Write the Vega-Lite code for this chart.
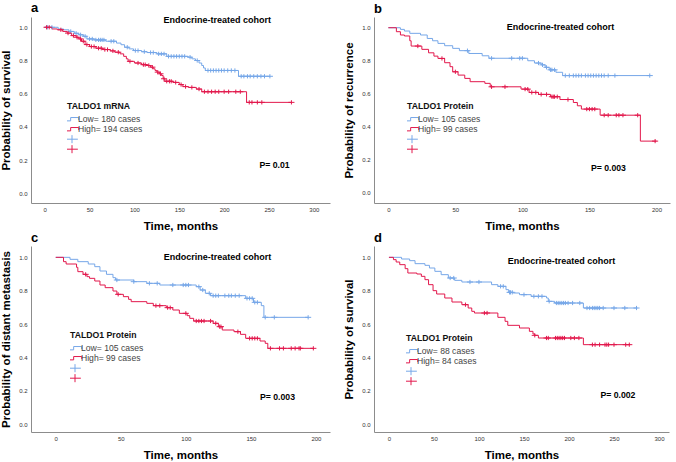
{
"$schema": "https://vega.github.io/schema/vega-lite/v6.json",
"padding": {"left": 0, "top": 1, "right": 2, "bottom": 1},
"config": {
  "font": "Liberation Sans",
  "view": {"stroke": null},
  "title": {"anchor": "start", "frame": "group", "fontSize": 13, "fontWeight": "bold", "offset": 1, "color": "#000"},
  "axis": {"grid": false, "ticks": false, "domainColor": "#8c8c8c", "labelFontSize": 6, "labelColor": "#333", "labelPadding": 3, "labelOverlap": false, "titleFontSize": 11.5, "titleFontWeight": "bold", "titleColor": "#000"},
  "axisY": {"titlePadding": 7, "labelPadding": 4},
  "axisX": {"titlePadding": 8},
  "legend": {"orient": "none", "padding": 0, "titleFontSize": 8.7, "titleFontWeight": "bold", "titleColor": "#111", "labelFontSize": 8.6, "labelColor": "#444", "symbolSize": 81, "symbolStrokeWidth": 1, "rowPadding": 0, "labelOffset": 1, "titlePadding": 4, "clipHeight": 9}
},
"datasets": {
  "aL": [
    {"g":"Low","t":0,"s":1},{"g":"Low","t":15,"s":0.99},{"g":"Low","t":21,"s":0.985},{"g":"Low","t":27,"s":0.975},{"g":"Low","t":33,"s":0.964},{"g":"Low","t":38,"s":0.955},{"g":"Low","t":43,"s":0.946},{"g":"Low","t":47,"s":0.93},{"g":"Low","t":55,"s":0.924},{"g":"Low","t":68,"s":0.916},{"g":"Low","t":80,"s":0.905},{"g":"Low","t":85,"s":0.895},{"g":"Low","t":89,"s":0.88},{"g":"Low","t":94,"s":0.87},{"g":"Low","t":99,"s":0.86},{"g":"Low","t":108,"s":0.853},{"g":"Low","t":114,"s":0.848},{"g":"Low","t":125,"s":0.84},{"g":"Low","t":136,"s":0.825},{"g":"Low","t":160,"s":0.82},{"g":"Low","t":164,"s":0.81},{"g":"Low","t":168,"s":0.8},{"g":"Low","t":172,"s":0.785},{"g":"Low","t":175,"s":0.77},{"g":"Low","t":177,"s":0.755},{"g":"Low","t":179,"s":0.74},{"g":"Low","t":216,"s":0.705},{"g":"Low","t":251,"s":0.705},
    {"g":"High","t":0,"s":1},{"g":"High","t":8,"s":0.99},{"g":"High","t":14,"s":0.985},{"g":"High","t":20,"s":0.975},{"g":"High","t":25,"s":0.965},{"g":"High","t":30,"s":0.95},{"g":"High","t":35,"s":0.94},{"g":"High","t":38,"s":0.93},{"g":"High","t":41,"s":0.916},{"g":"High","t":45,"s":0.896},{"g":"High","t":50,"s":0.884},{"g":"High","t":57,"s":0.874},{"g":"High","t":65,"s":0.866},{"g":"High","t":73,"s":0.858},{"g":"High","t":78,"s":0.85},{"g":"High","t":84,"s":0.84},{"g":"High","t":88,"s":0.825},{"g":"High","t":91,"s":0.81},{"g":"High","t":93,"s":0.795},{"g":"High","t":100,"s":0.785},{"g":"High","t":108,"s":0.775},{"g":"High","t":114,"s":0.77},{"g":"High","t":118,"s":0.76},{"g":"High","t":121,"s":0.75},{"g":"High","t":123,"s":0.74},{"g":"High","t":125,"s":0.73},{"g":"High","t":128,"s":0.72},{"g":"High","t":130,"s":0.71},{"g":"High","t":132,"s":0.69},{"g":"High","t":134,"s":0.675},{"g":"High","t":143,"s":0.668},{"g":"High","t":150,"s":0.655},{"g":"High","t":154,"s":0.643},{"g":"High","t":160,"s":0.638},{"g":"High","t":169,"s":0.628},{"g":"High","t":175,"s":0.612},{"g":"High","t":225,"s":0.548},{"g":"High","t":275,"s":0.548}
  ],
  "aC": [
    {"g":"LowC","t":3,"s":1},{"g":"LowC","t":8,"s":1},{"g":"LowC","t":29,"s":0.975},{"g":"LowC","t":35,"s":0.964},{"g":"LowC","t":40,"s":0.955},{"g":"LowC","t":45,"s":0.946},{"g":"LowC","t":50,"s":0.93},{"g":"LowC","t":53,"s":0.93},{"g":"LowC","t":57,"s":0.924},{"g":"LowC","t":60,"s":0.924},{"g":"LowC","t":62,"s":0.924},{"g":"LowC","t":64,"s":0.924},{"g":"LowC","t":66,"s":0.924},{"g":"LowC","t":74,"s":0.916},{"g":"LowC","t":77,"s":0.916},{"g":"LowC","t":92,"s":0.88},{"g":"LowC","t":101,"s":0.86},{"g":"LowC","t":104,"s":0.86},{"g":"LowC","t":111,"s":0.853},{"g":"LowC","t":118,"s":0.848},{"g":"LowC","t":121,"s":0.848},{"g":"LowC","t":127,"s":0.84},{"g":"LowC","t":130,"s":0.84},{"g":"LowC","t":133,"s":0.84},{"g":"LowC","t":138,"s":0.825},{"g":"LowC","t":141,"s":0.825},{"g":"LowC","t":144,"s":0.825},{"g":"LowC","t":147,"s":0.825},{"g":"LowC","t":150,"s":0.825},{"g":"LowC","t":153,"s":0.825},{"g":"LowC","t":156,"s":0.825},{"g":"LowC","t":162,"s":0.82},{"g":"LowC","t":170,"s":0.8},{"g":"LowC","t":182,"s":0.74},{"g":"LowC","t":185,"s":0.74},{"g":"LowC","t":188,"s":0.74},{"g":"LowC","t":191,"s":0.74},{"g":"LowC","t":194,"s":0.74},{"g":"LowC","t":197,"s":0.74},{"g":"LowC","t":200,"s":0.74},{"g":"LowC","t":204,"s":0.74},{"g":"LowC","t":208,"s":0.74},{"g":"LowC","t":212,"s":0.74},{"g":"LowC","t":219,"s":0.705},{"g":"LowC","t":222,"s":0.705},{"g":"LowC","t":226,"s":0.705},{"g":"LowC","t":229,"s":0.705},{"g":"LowC","t":233,"s":0.705},{"g":"LowC","t":237,"s":0.705},{"g":"LowC","t":241,"s":0.705},{"g":"LowC","t":245,"s":0.705},{"g":"LowC","t":251,"s":0.705},
    {"g":"HighC","t":2,"s":1},{"g":"HighC","t":5,"s":1},{"g":"HighC","t":18,"s":0.985},{"g":"HighC","t":26,"s":0.965},{"g":"HighC","t":32,"s":0.95},{"g":"HighC","t":36,"s":0.94},{"g":"HighC","t":40,"s":0.93},{"g":"HighC","t":43,"s":0.916},{"g":"HighC","t":47,"s":0.896},{"g":"HighC","t":52,"s":0.884},{"g":"HighC","t":55,"s":0.884},{"g":"HighC","t":60,"s":0.874},{"g":"HighC","t":63,"s":0.874},{"g":"HighC","t":67,"s":0.866},{"g":"HighC","t":70,"s":0.866},{"g":"HighC","t":76,"s":0.858},{"g":"HighC","t":82,"s":0.85},{"g":"HighC","t":95,"s":0.795},{"g":"HighC","t":104,"s":0.785},{"g":"HighC","t":110,"s":0.775},{"g":"HighC","t":112,"s":0.775},{"g":"HighC","t":116,"s":0.77},{"g":"HighC","t":120,"s":0.76},{"g":"HighC","t":126,"s":0.73},{"g":"HighC","t":129,"s":0.72},{"g":"HighC","t":133,"s":0.69},{"g":"HighC","t":136,"s":0.675},{"g":"HighC","t":139,"s":0.675},{"g":"HighC","t":141,"s":0.675},{"g":"HighC","t":146,"s":0.668},{"g":"HighC","t":152,"s":0.655},{"g":"HighC","t":157,"s":0.643},{"g":"HighC","t":164,"s":0.638},{"g":"HighC","t":172,"s":0.628},{"g":"HighC","t":178,"s":0.612},{"g":"HighC","t":182,"s":0.612},{"g":"HighC","t":186,"s":0.612},{"g":"HighC","t":190,"s":0.612},{"g":"HighC","t":194,"s":0.612},{"g":"HighC","t":200,"s":0.612},{"g":"HighC","t":205,"s":0.612},{"g":"HighC","t":213,"s":0.612},{"g":"HighC","t":218,"s":0.612},{"g":"HighC","t":228,"s":0.548},{"g":"HighC","t":231,"s":0.548},{"g":"HighC","t":237,"s":0.548},{"g":"HighC","t":242,"s":0.548},{"g":"HighC","t":275,"s":0.548}
  ],
  "bL": [
    {"g":"Low","t":0,"s":1},{"g":"Low","t":9,"s":0.99},{"g":"Low","t":12,"s":0.98},{"g":"Low","t":16,"s":0.966},{"g":"Low","t":24,"s":0.956},{"g":"Low","t":29,"s":0.935},{"g":"Low","t":33,"s":0.921},{"g":"Low","t":37,"s":0.905},{"g":"Low","t":42,"s":0.891},{"g":"Low","t":48,"s":0.875},{"g":"Low","t":53,"s":0.861},{"g":"Low","t":60,"s":0.844},{"g":"Low","t":70,"s":0.83},{"g":"Low","t":75,"s":0.815},{"g":"Low","t":104,"s":0.8},{"g":"Low","t":109,"s":0.786},{"g":"Low","t":114,"s":0.775},{"g":"Low","t":117,"s":0.76},{"g":"Low","t":120,"s":0.745},{"g":"Low","t":125,"s":0.73},{"g":"Low","t":130,"s":0.71},{"g":"Low","t":195,"s":0.71},
    {"g":"High","t":0,"s":1},{"g":"High","t":6,"s":0.976},{"g":"High","t":9,"s":0.956},{"g":"High","t":12,"s":0.95},{"g":"High","t":16,"s":0.921},{"g":"High","t":17,"s":0.889},{"g":"High","t":25,"s":0.869},{"g":"High","t":30,"s":0.848},{"g":"High","t":34,"s":0.828},{"g":"High","t":37,"s":0.814},{"g":"High","t":42,"s":0.788},{"g":"High","t":46,"s":0.764},{"g":"High","t":48,"s":0.733},{"g":"High","t":52,"s":0.713},{"g":"High","t":57,"s":0.693},{"g":"High","t":61,"s":0.673},{"g":"High","t":72,"s":0.663},{"g":"High","t":76,"s":0.642},{"g":"High","t":99,"s":0.628},{"g":"High","t":105,"s":0.608},{"g":"High","t":112,"s":0.596},{"g":"High","t":121,"s":0.582},{"g":"High","t":128,"s":0.565},{"g":"High","t":138,"s":0.547},{"g":"High","t":141,"s":0.527},{"g":"High","t":144,"s":0.507},{"g":"High","t":158,"s":0.47},{"g":"High","t":188,"s":0.313},{"g":"High","t":200,"s":0.313}
  ],
  "bC": [
    {"g":"LowC","t":59,"s":0.861},{"g":"LowC","t":77,"s":0.815},{"g":"LowC","t":92,"s":0.815},{"g":"LowC","t":98,"s":0.815},{"g":"LowC","t":100,"s":0.815},{"g":"LowC","t":112,"s":0.786},{"g":"LowC","t":115,"s":0.775},{"g":"LowC","t":118,"s":0.76},{"g":"LowC","t":121,"s":0.745},{"g":"LowC","t":122,"s":0.745},{"g":"LowC","t":124,"s":0.745},{"g":"LowC","t":132,"s":0.71},{"g":"LowC","t":135,"s":0.71},{"g":"LowC","t":138,"s":0.71},{"g":"LowC","t":140,"s":0.71},{"g":"LowC","t":142,"s":0.71},{"g":"LowC","t":144,"s":0.71},{"g":"LowC","t":147,"s":0.71},{"g":"LowC","t":149,"s":0.71},{"g":"LowC","t":151,"s":0.71},{"g":"LowC","t":153,"s":0.71},{"g":"LowC","t":155,"s":0.71},{"g":"LowC","t":157,"s":0.71},{"g":"LowC","t":159,"s":0.71},{"g":"LowC","t":161,"s":0.71},{"g":"LowC","t":164,"s":0.71},{"g":"LowC","t":169,"s":0.71},{"g":"LowC","t":195,"s":0.71},
    {"g":"HighC","t":22,"s":0.889},{"g":"HighC","t":40,"s":0.814},{"g":"HighC","t":50,"s":0.733},{"g":"HighC","t":77,"s":0.642},{"g":"HighC","t":87,"s":0.642},{"g":"HighC","t":102,"s":0.628},{"g":"HighC","t":104,"s":0.628},{"g":"HighC","t":107,"s":0.608},{"g":"HighC","t":110,"s":0.608},{"g":"HighC","t":114,"s":0.596},{"g":"HighC","t":118,"s":0.596},{"g":"HighC","t":122,"s":0.582},{"g":"HighC","t":123,"s":0.582},{"g":"HighC","t":124,"s":0.582},{"g":"HighC","t":126,"s":0.582},{"g":"HighC","t":134,"s":0.565},{"g":"HighC","t":148,"s":0.507},{"g":"HighC","t":150,"s":0.507},{"g":"HighC","t":152,"s":0.507},{"g":"HighC","t":154,"s":0.507},{"g":"HighC","t":161,"s":0.47},{"g":"HighC","t":164,"s":0.47},{"g":"HighC","t":170,"s":0.47},{"g":"HighC","t":172,"s":0.47},{"g":"HighC","t":175,"s":0.47},{"g":"HighC","t":186,"s":0.47},{"g":"HighC","t":199,"s":0.313}
  ],
  "cL": [
    {"g":"Low","t":0,"s":1},{"g":"Low","t":11,"s":0.988},{"g":"Low","t":17,"s":0.974},{"g":"Low","t":25,"s":0.96},{"g":"Low","t":30,"s":0.944},{"g":"Low","t":34,"s":0.918},{"g":"Low","t":39,"s":0.898},{"g":"Low","t":44,"s":0.878},{"g":"Low","t":46,"s":0.864},{"g":"Low","t":60,"s":0.854},{"g":"Low","t":70,"s":0.844},{"g":"Low","t":80,"s":0.834},{"g":"Low","t":108,"s":0.824},{"g":"Low","t":111,"s":0.804},{"g":"Low","t":115,"s":0.784},{"g":"Low","t":119,"s":0.77},{"g":"Low","t":146,"s":0.754},{"g":"Low","t":152,"s":0.73},{"g":"Low","t":158,"s":0.71},{"g":"Low","t":160,"s":0.64},{"g":"Low","t":194,"s":0.64},
    {"g":"High","t":0,"s":1},{"g":"High","t":6,"s":0.974},{"g":"High","t":8,"s":0.96},{"g":"High","t":16,"s":0.94},{"g":"High","t":17,"s":0.914},{"g":"High","t":21,"s":0.898},{"g":"High","t":24,"s":0.884},{"g":"High","t":26,"s":0.874},{"g":"High","t":30,"s":0.858},{"g":"High","t":34,"s":0.834},{"g":"High","t":38,"s":0.818},{"g":"High","t":44,"s":0.798},{"g":"High","t":47,"s":0.778},{"g":"High","t":52,"s":0.764},{"g":"High","t":56,"s":0.748},{"g":"High","t":58,"s":0.734},{"g":"High","t":70,"s":0.724},{"g":"High","t":75,"s":0.71},{"g":"High","t":85,"s":0.698},{"g":"High","t":90,"s":0.684},{"g":"High","t":95,"s":0.664},{"g":"High","t":101,"s":0.65},{"g":"High","t":103,"s":0.634},{"g":"High","t":106,"s":0.618},{"g":"High","t":121,"s":0.604},{"g":"High","t":125,"s":0.584},{"g":"High","t":128,"s":0.564},{"g":"High","t":137,"s":0.554},{"g":"High","t":142,"s":0.538},{"g":"High","t":146,"s":0.514},{"g":"High","t":157,"s":0.498},{"g":"High","t":161,"s":0.484},{"g":"High","t":163,"s":0.454},{"g":"High","t":198,"s":0.454}
  ],
  "cC": [
    {"g":"LowC","t":47,"s":0.864},{"g":"LowC","t":60,"s":0.854},{"g":"LowC","t":72,"s":0.844},{"g":"LowC","t":78,"s":0.844},{"g":"LowC","t":90,"s":0.834},{"g":"LowC","t":98,"s":0.834},{"g":"LowC","t":100,"s":0.834},{"g":"LowC","t":102,"s":0.834},{"g":"LowC","t":110,"s":0.824},{"g":"LowC","t":113,"s":0.804},{"g":"LowC","t":118,"s":0.784},{"g":"LowC","t":121,"s":0.77},{"g":"LowC","t":123,"s":0.77},{"g":"LowC","t":125,"s":0.77},{"g":"LowC","t":130,"s":0.77},{"g":"LowC","t":133,"s":0.77},{"g":"LowC","t":135,"s":0.77},{"g":"LowC","t":138,"s":0.77},{"g":"LowC","t":141,"s":0.77},{"g":"LowC","t":147,"s":0.754},{"g":"LowC","t":149,"s":0.754},{"g":"LowC","t":151,"s":0.754},{"g":"LowC","t":153,"s":0.73},{"g":"LowC","t":155,"s":0.73},{"g":"LowC","t":161,"s":0.64},{"g":"LowC","t":168,"s":0.64},{"g":"LowC","t":194,"s":0.64},
    {"g":"HighC","t":23,"s":0.898},{"g":"HighC","t":48,"s":0.778},{"g":"HighC","t":77,"s":0.71},{"g":"HighC","t":80,"s":0.71},{"g":"HighC","t":86,"s":0.698},{"g":"HighC","t":88,"s":0.698},{"g":"HighC","t":100,"s":0.664},{"g":"HighC","t":108,"s":0.618},{"g":"HighC","t":110,"s":0.618},{"g":"HighC","t":112,"s":0.618},{"g":"HighC","t":114,"s":0.618},{"g":"HighC","t":119,"s":0.618},{"g":"HighC","t":123,"s":0.604},{"g":"HighC","t":126,"s":0.584},{"g":"HighC","t":127,"s":0.584},{"g":"HighC","t":140,"s":0.554},{"g":"HighC","t":149,"s":0.514},{"g":"HighC","t":151,"s":0.514},{"g":"HighC","t":153,"s":0.514},{"g":"HighC","t":155,"s":0.514},{"g":"HighC","t":165,"s":0.454},{"g":"HighC","t":172,"s":0.454},{"g":"HighC","t":175,"s":0.454},{"g":"HighC","t":181,"s":0.454},{"g":"HighC","t":184,"s":0.454},{"g":"HighC","t":187,"s":0.454},{"g":"HighC","t":188,"s":0.454},{"g":"HighC","t":198,"s":0.454}
  ],
  "dL": [
    {"g":"Low","t":0,"s":1},{"g":"Low","t":14,"s":0.99},{"g":"Low","t":23,"s":0.98},{"g":"Low","t":29,"s":0.962},{"g":"Low","t":40,"s":0.952},{"g":"Low","t":45,"s":0.936},{"g":"Low","t":51,"s":0.916},{"g":"Low","t":58,"s":0.896},{"g":"Low","t":66,"s":0.876},{"g":"Low","t":73,"s":0.862},{"g":"Low","t":81,"s":0.852},{"g":"Low","t":114,"s":0.836},{"g":"Low","t":121,"s":0.826},{"g":"Low","t":130,"s":0.806},{"g":"Low","t":133,"s":0.79},{"g":"Low","t":138,"s":0.786},{"g":"Low","t":145,"s":0.776},{"g":"Low","t":158,"s":0.766},{"g":"Low","t":175,"s":0.756},{"g":"Low","t":177,"s":0.736},{"g":"Low","t":184,"s":0.726},{"g":"Low","t":216,"s":0.696},{"g":"Low","t":276,"s":0.696},
    {"g":"High","t":0,"s":1},{"g":"High","t":5,"s":0.986},{"g":"High","t":8,"s":0.972},{"g":"High","t":12,"s":0.956},{"g":"High","t":18,"s":0.932},{"g":"High","t":21,"s":0.906},{"g":"High","t":31,"s":0.9},{"g":"High","t":36,"s":0.886},{"g":"High","t":40,"s":0.866},{"g":"High","t":44,"s":0.836},{"g":"High","t":49,"s":0.8},{"g":"High","t":53,"s":0.78},{"g":"High","t":62,"s":0.756},{"g":"High","t":70,"s":0.732},{"g":"High","t":81,"s":0.716},{"g":"High","t":88,"s":0.696},{"g":"High","t":92,"s":0.676},{"g":"High","t":95,"s":0.666},{"g":"High","t":121,"s":0.64},{"g":"High","t":129,"s":0.616},{"g":"High","t":132,"s":0.592},{"g":"High","t":145,"s":0.576},{"g":"High","t":156,"s":0.556},{"g":"High","t":160,"s":0.54},{"g":"High","t":162,"s":0.532},{"g":"High","t":166,"s":0.516},{"g":"High","t":216,"s":0.476},{"g":"High","t":268,"s":0.476}
  ],
  "dC": [
    {"g":"LowC","t":68,"s":0.876},{"g":"LowC","t":72,"s":0.876},{"g":"LowC","t":90,"s":0.852},{"g":"LowC","t":100,"s":0.852},{"g":"LowC","t":124,"s":0.826},{"g":"LowC","t":127,"s":0.826},{"g":"LowC","t":134,"s":0.79},{"g":"LowC","t":135,"s":0.79},{"g":"LowC","t":137,"s":0.79},{"g":"LowC","t":150,"s":0.776},{"g":"LowC","t":161,"s":0.766},{"g":"LowC","t":166,"s":0.766},{"g":"LowC","t":170,"s":0.766},{"g":"LowC","t":178,"s":0.736},{"g":"LowC","t":186,"s":0.726},{"g":"LowC","t":188,"s":0.726},{"g":"LowC","t":190,"s":0.726},{"g":"LowC","t":192,"s":0.726},{"g":"LowC","t":194,"s":0.726},{"g":"LowC","t":196,"s":0.726},{"g":"LowC","t":199,"s":0.726},{"g":"LowC","t":204,"s":0.726},{"g":"LowC","t":212,"s":0.726},{"g":"LowC","t":220,"s":0.696},{"g":"LowC","t":223,"s":0.696},{"g":"LowC","t":226,"s":0.696},{"g":"LowC","t":228,"s":0.696},{"g":"LowC","t":230,"s":0.696},{"g":"LowC","t":232,"s":0.696},{"g":"LowC","t":234,"s":0.696},{"g":"LowC","t":238,"s":0.696},{"g":"LowC","t":250,"s":0.696},{"g":"LowC","t":262,"s":0.696},{"g":"LowC","t":275,"s":0.696},
    {"g":"HighC","t":85,"s":0.716},{"g":"HighC","t":106,"s":0.666},{"g":"HighC","t":109,"s":0.666},{"g":"HighC","t":162,"s":0.532},{"g":"HighC","t":175,"s":0.516},{"g":"HighC","t":177,"s":0.516},{"g":"HighC","t":185,"s":0.516},{"g":"HighC","t":187,"s":0.516},{"g":"HighC","t":189,"s":0.516},{"g":"HighC","t":191,"s":0.516},{"g":"HighC","t":193,"s":0.516},{"g":"HighC","t":195,"s":0.516},{"g":"HighC","t":202,"s":0.516},{"g":"HighC","t":206,"s":0.516},{"g":"HighC","t":211,"s":0.516},{"g":"HighC","t":226,"s":0.476},{"g":"HighC","t":229,"s":0.476},{"g":"HighC","t":234,"s":0.476},{"g":"HighC","t":240,"s":0.476},{"g":"HighC","t":242,"s":0.476},{"g":"HighC","t":244,"s":0.476},{"g":"HighC","t":250,"s":0.476},{"g":"HighC","t":263,"s":0.476},{"g":"HighC","t":267,"s":0.476}
  ]
},
"resolve": {"scale": {"color": "independent", "shape": "independent"}, "legend": {"color": "independent", "shape": "independent"}},
"spacing": 0,
"vconcat": [
 {
  "spacing": 13,
  "resolve": {"scale": {"color": "independent", "shape": "independent"}, "legend": {"color": "independent", "shape": "independent"}},
  "hconcat": [
   {
    "width": 299, "height": 186,
    "title": "a",
    "layer": [
      {"data": {"name": "aL"}, "mark": {"type": "line", "interpolate": "step-after", "strokeWidth": 1},
       "encoding": {
         "x": {"field": "t", "type": "quantitative", "scale": {"domain": [-15.3, 318], "nice": false, "zero": false}, "axis": {"values": [0, 50, 100, 150, 200, 250, 300], "title": "Time, months"}},
         "y": {"field": "s", "type": "quantitative", "scale": {"domain": [-0.058, 1.062], "nice": false, "zero": false}, "axis": {"values": [0, 0.2, 0.4, 0.6, 0.8, 1], "format": ".1f", "title": "Probability of survival"}},
         "color": {"field": "g", "type": "nominal", "scale": {"domain": ["Low", "High", "LowC", "HighC"], "range": ["#76a7e8", "#e2184c", "#76a7e8", "#e2184c"]},
         "legend": {"title": "TALDO1 mRNA", "legendX": 36, "legendY": 85, "labelExpr": "datum.label == 'Low' ? 'Low= 180 cases' : datum.label == 'High' ? 'High= 194 cases' : ''"}}}},
      {"data": {"name": "aC"}, "mark": {"type": "point", "filled": false, "strokeWidth": 1, "size": 22, "opacity": 1},
       "encoding": {
         "x": {"field": "t", "type": "quantitative", "axis": {"values": [0, 50, 100, 150, 200, 250, 300], "title": "Time, months"}},
         "y": {"field": "s", "type": "quantitative", "axis": {"values": [0, 0.2, 0.4, 0.6, 0.8, 1], "format": ".1f", "title": "Probability of survival"}},
         "color": {"field": "g", "type": "nominal", "scale": {"domain": ["Low", "High", "LowC", "HighC"], "range": ["#76a7e8", "#e2184c", "#76a7e8", "#e2184c"]},
         "legend": {"title": "TALDO1 mRNA", "legendX": 36, "legendY": 85, "labelExpr": "datum.label == 'Low' ? 'Low= 180 cases' : datum.label == 'High' ? 'High= 194 cases' : ''"}},
         "shape": {"field": "g", "type": "nominal", "scale": {"domain": ["Low", "High", "LowC", "HighC"], "range": ["M-1.5,0.37H-0.3V-0.37H1.5V0.2", "M-1.5,0.37H-0.3V-0.37H1.5V0.2", "M-1.3,0H1.3M0,-0.9V0.9", "M-1.3,0H1.3M0,-0.9V0.9"]},
         "legend": {"title": "TALDO1 mRNA", "legendX": 36, "legendY": 85, "labelExpr": "datum.label == 'Low' ? 'Low= 180 cases' : datum.label == 'High' ? 'High= 194 cases' : ''"}}}},
      {"data": {"values": [{"label": "Endocrine-treated cohort"}]}, "mark": {"type": "text", "fontSize": 9, "fontWeight": "bold", "align": "center", "baseline": "middle", "color": "#000"},
       "encoding": {"x": {"datum": 192.4, "type": "quantitative", "axis": {"values": [0, 50, 100, 150, 200, 250, 300], "title": "Time, months"}}, "y": {"datum": 1.045, "type": "quantitative", "axis": {"values": [0, 0.2, 0.4, 0.6, 0.8, 1], "format": ".1f", "title": "Probability of survival"}}, "text": {"field": "label", "type": "nominal"}}},
      {"data": {"values": [{"label": "P= 0.01"}]}, "mark": {"type": "text", "fontSize": 8.7, "fontWeight": "bold", "align": "left", "baseline": "middle", "color": "#000"},
       "encoding": {"x": {"datum": 239.3, "type": "quantitative", "axis": {"values": [0, 50, 100, 150, 200, 250, 300], "title": "Time, months"}}, "y": {"datum": 0.17, "type": "quantitative", "axis": {"values": [0, 0.2, 0.4, 0.6, 0.8, 1], "format": ".1f", "title": "Probability of survival"}}, "text": {"field": "label", "type": "nominal"}}}
    ]
   },
   {
    "width": 296, "height": 186,
    "title": "b",
    "layer": [
      {"data": {"name": "bL"}, "mark": {"type": "line", "interpolate": "step-after", "strokeWidth": 1},
       "encoding": {
         "x": {"field": "t", "type": "quantitative", "scale": {"domain": [-10.7, 210.1], "nice": false, "zero": false}, "axis": {"values": [0, 50, 100, 150, 200], "title": "Time, months"}},
         "y": {"field": "s", "type": "quantitative", "scale": {"domain": [-0.062, 1.065], "nice": false, "zero": false}, "axis": {"values": [0, 0.2, 0.4, 0.6, 0.8, 1], "format": ".1f", "title": "Probability of recurrence"}},
         "color": {"field": "g", "type": "nominal", "scale": {"domain": ["Low", "High", "LowC", "HighC"], "range": ["#76a7e8", "#e2184c", "#76a7e8", "#e2184c"]},
         "legend": {"title": "TALDO1 Protein", "legendX": 33, "legendY": 85, "labelExpr": "datum.label == 'Low' ? 'Low= 105 cases' : datum.label == 'High' ? 'High= 99 cases' : ''"}}}},
      {"data": {"name": "bC"}, "mark": {"type": "point", "filled": false, "strokeWidth": 1, "size": 22, "opacity": 1},
       "encoding": {
         "x": {"field": "t", "type": "quantitative", "axis": {"values": [0, 50, 100, 150, 200], "title": "Time, months"}},
         "y": {"field": "s", "type": "quantitative", "axis": {"values": [0, 0.2, 0.4, 0.6, 0.8, 1], "format": ".1f", "title": "Probability of recurrence"}},
         "color": {"field": "g", "type": "nominal", "scale": {"domain": ["Low", "High", "LowC", "HighC"], "range": ["#76a7e8", "#e2184c", "#76a7e8", "#e2184c"]},
         "legend": {"title": "TALDO1 Protein", "legendX": 33, "legendY": 85, "labelExpr": "datum.label == 'Low' ? 'Low= 105 cases' : datum.label == 'High' ? 'High= 99 cases' : ''"}},
         "shape": {"field": "g", "type": "nominal", "scale": {"domain": ["Low", "High", "LowC", "HighC"], "range": ["M-1.5,0.37H-0.3V-0.37H1.5V0.2", "M-1.5,0.37H-0.3V-0.37H1.5V0.2", "M-1.3,0H1.3M0,-0.9V0.9", "M-1.3,0H1.3M0,-0.9V0.9"]},
         "legend": {"title": "TALDO1 Protein", "legendX": 33, "legendY": 85, "labelExpr": "datum.label == 'Low' ? 'Low= 105 cases' : datum.label == 'High' ? 'High= 99 cases' : ''"}}}},
      {"data": {"values": [{"label": "Endocrine-treated cohort"}]}, "mark": {"type": "text", "fontSize": 9, "fontWeight": "bold", "align": "center", "baseline": "middle", "color": "#000"},
       "encoding": {"x": {"datum": 128.4, "type": "quantitative", "axis": {"values": [0, 50, 100, 150, 200], "title": "Time, months"}}, "y": {"datum": 1.006, "type": "quantitative", "axis": {"values": [0, 0.2, 0.4, 0.6, 0.8, 1], "format": ".1f", "title": "Probability of recurrence"}}, "text": {"field": "label", "type": "nominal"}}},
      {"data": {"values": [{"label": "P= 0.003"}]}, "mark": {"type": "text", "fontSize": 8.7, "fontWeight": "bold", "align": "left", "baseline": "middle", "color": "#000"},
       "encoding": {"x": {"datum": 151.1, "type": "quantitative", "axis": {"values": [0, 50, 100, 150, 200], "title": "Time, months"}}, "y": {"datum": 0.152, "type": "quantitative", "axis": {"values": [0, 0.2, 0.4, 0.6, 0.8, 1], "format": ".1f", "title": "Probability of recurrence"}}, "text": {"field": "label", "type": "nominal"}}}
    ]
   }
  ]
 },
 {
  "spacing": 13,
  "resolve": {"scale": {"color": "independent", "shape": "independent"}, "legend": {"color": "independent", "shape": "independent"}},
  "hconcat": [
   {
    "width": 299, "height": 186,
    "title": "c",
    "layer": [
      {"data": {"name": "cL"}, "mark": {"type": "line", "interpolate": "step-after", "strokeWidth": 1},
       "encoding": {
         "x": {"field": "t", "type": "quantitative", "scale": {"domain": [-19, 210.8], "nice": false, "zero": false}, "axis": {"values": [0, 50, 100, 150, 200], "title": "Time, months"}},
         "y": {"field": "s", "type": "quantitative", "scale": {"domain": [-0.048, 1.068], "nice": false, "zero": false}, "axis": {"values": [0, 0.2, 0.4, 0.6, 0.8, 1], "format": ".1f", "title": "Probability of distant metastasis"}},
         "color": {"field": "g", "type": "nominal", "scale": {"domain": ["Low", "High", "LowC", "HighC"], "range": ["#76a7e8", "#e2184c", "#76a7e8", "#e2184c"]},
         "legend": {"title": "TALDO1 Protein", "legendX": 39, "legendY": 85, "labelExpr": "datum.label == 'Low' ? 'Low= 105 cases' : datum.label == 'High' ? 'High= 99 cases' : ''"}}}},
      {"data": {"name": "cC"}, "mark": {"type": "point", "filled": false, "strokeWidth": 1, "size": 22, "opacity": 1},
       "encoding": {
         "x": {"field": "t", "type": "quantitative", "axis": {"values": [0, 50, 100, 150, 200], "title": "Time, months"}},
         "y": {"field": "s", "type": "quantitative", "axis": {"values": [0, 0.2, 0.4, 0.6, 0.8, 1], "format": ".1f", "title": "Probability of distant metastasis"}},
         "color": {"field": "g", "type": "nominal", "scale": {"domain": ["Low", "High", "LowC", "HighC"], "range": ["#76a7e8", "#e2184c", "#76a7e8", "#e2184c"]},
         "legend": {"title": "TALDO1 Protein", "legendX": 39, "legendY": 85, "labelExpr": "datum.label == 'Low' ? 'Low= 105 cases' : datum.label == 'High' ? 'High= 99 cases' : ''"}},
         "shape": {"field": "g", "type": "nominal", "scale": {"domain": ["Low", "High", "LowC", "HighC"], "range": ["M-1.5,0.37H-0.3V-0.37H1.5V0.2", "M-1.5,0.37H-0.3V-0.37H1.5V0.2", "M-1.3,0H1.3M0,-0.9V0.9", "M-1.3,0H1.3M0,-0.9V0.9"]},
         "legend": {"title": "TALDO1 Protein", "legendX": 39, "legendY": 85, "labelExpr": "datum.label == 'Low' ? 'Low= 105 cases' : datum.label == 'High' ? 'High= 99 cases' : ''"}}}},
      {"data": {"values": [{"label": "Endocrine-treated cohort"}]}, "mark": {"type": "text", "fontSize": 9, "fontWeight": "bold", "align": "center", "baseline": "middle", "color": "#000"},
       "encoding": {"x": {"datum": 124.3, "type": "quantitative", "axis": {"values": [0, 50, 100, 150, 200], "title": "Time, months"}}, "y": {"datum": 1.004, "type": "quantitative", "axis": {"values": [0, 0.2, 0.4, 0.6, 0.8, 1], "format": ".1f", "title": "Probability of distant metastasis"}}, "text": {"field": "label", "type": "nominal"}}},
      {"data": {"values": [{"label": "P= 0.003"}]}, "mark": {"type": "text", "fontSize": 8.7, "fontWeight": "bold", "align": "left", "baseline": "middle", "color": "#000"},
       "encoding": {"x": {"datum": 157, "type": "quantitative", "axis": {"values": [0, 50, 100, 150, 200], "title": "Time, months"}}, "y": {"datum": 0.164, "type": "quantitative", "axis": {"values": [0, 0.2, 0.4, 0.6, 0.8, 1], "format": ".1f", "title": "Probability of distant metastasis"}}, "text": {"field": "label", "type": "nominal"}}}
    ]
   },
   {
    "width": 295, "height": 186,
    "title": "d",
    "layer": [
      {"data": {"name": "dL"}, "mark": {"type": "line", "interpolate": "step-after", "strokeWidth": 1},
       "encoding": {
         "x": {"field": "t", "type": "quantitative", "scale": {"domain": [-16.6, 311.1], "nice": false, "zero": false}, "axis": {"values": [0, 50, 100, 150, 200, 250, 300], "title": "Time, months"}},
         "y": {"field": "s", "type": "quantitative", "scale": {"domain": [-0.048, 1.068], "nice": false, "zero": false}, "axis": {"values": [0, 0.2, 0.4, 0.6, 0.8, 1], "format": ".1f", "title": "Probability of survival"}},
         "color": {"field": "g", "type": "nominal", "scale": {"domain": ["Low", "High", "LowC", "HighC"], "range": ["#76a7e8", "#e2184c", "#76a7e8", "#e2184c"]},
         "legend": {"title": "TALDO1 Protein", "legendX": 32, "legendY": 88, "labelExpr": "datum.label == 'Low' ? 'Low= 88 cases' : datum.label == 'High' ? 'High= 84 cases' : ''"}}}},
      {"data": {"name": "dC"}, "mark": {"type": "point", "filled": false, "strokeWidth": 1, "size": 22, "opacity": 1},
       "encoding": {
         "x": {"field": "t", "type": "quantitative", "axis": {"values": [0, 50, 100, 150, 200, 250, 300], "title": "Time, months"}},
         "y": {"field": "s", "type": "quantitative", "axis": {"values": [0, 0.2, 0.4, 0.6, 0.8, 1], "format": ".1f", "title": "Probability of survival"}},
         "color": {"field": "g", "type": "nominal", "scale": {"domain": ["Low", "High", "LowC", "HighC"], "range": ["#76a7e8", "#e2184c", "#76a7e8", "#e2184c"]},
         "legend": {"title": "TALDO1 Protein", "legendX": 32, "legendY": 88, "labelExpr": "datum.label == 'Low' ? 'Low= 88 cases' : datum.label == 'High' ? 'High= 84 cases' : ''"}},
         "shape": {"field": "g", "type": "nominal", "scale": {"domain": ["Low", "High", "LowC", "HighC"], "range": ["M-1.5,0.37H-0.3V-0.37H1.5V0.2", "M-1.5,0.37H-0.3V-0.37H1.5V0.2", "M-1.3,0H1.3M0,-0.9V0.9", "M-1.3,0H1.3M0,-0.9V0.9"]},
         "legend": {"title": "TALDO1 Protein", "legendX": 32, "legendY": 88, "labelExpr": "datum.label == 'Low' ? 'Low= 88 cases' : datum.label == 'High' ? 'High= 84 cases' : ''"}}}},
      {"data": {"values": [{"label": "Endocrine-treated cohort"}]}, "mark": {"type": "text", "fontSize": 9, "fontWeight": "bold", "align": "center", "baseline": "middle", "color": "#000"},
       "encoding": {"x": {"datum": 191.6, "type": "quantitative", "axis": {"values": [0, 50, 100, 150, 200, 250, 300], "title": "Time, months"}}, "y": {"datum": 0.976, "type": "quantitative", "axis": {"values": [0, 0.2, 0.4, 0.6, 0.8, 1], "format": ".1f", "title": "Probability of survival"}}, "text": {"field": "label", "type": "nominal"}}},
      {"data": {"values": [{"label": "P= 0.002"}]}, "mark": {"type": "text", "fontSize": 8.7, "fontWeight": "bold", "align": "left", "baseline": "middle", "color": "#000"},
       "encoding": {"x": {"datum": 234.9, "type": "quantitative", "axis": {"values": [0, 50, 100, 150, 200, 250, 300], "title": "Time, months"}}, "y": {"datum": 0.172, "type": "quantitative", "axis": {"values": [0, 0.2, 0.4, 0.6, 0.8, 1], "format": ".1f", "title": "Probability of survival"}}, "text": {"field": "label", "type": "nominal"}}}
    ]
   }
  ]
 }
]
}
